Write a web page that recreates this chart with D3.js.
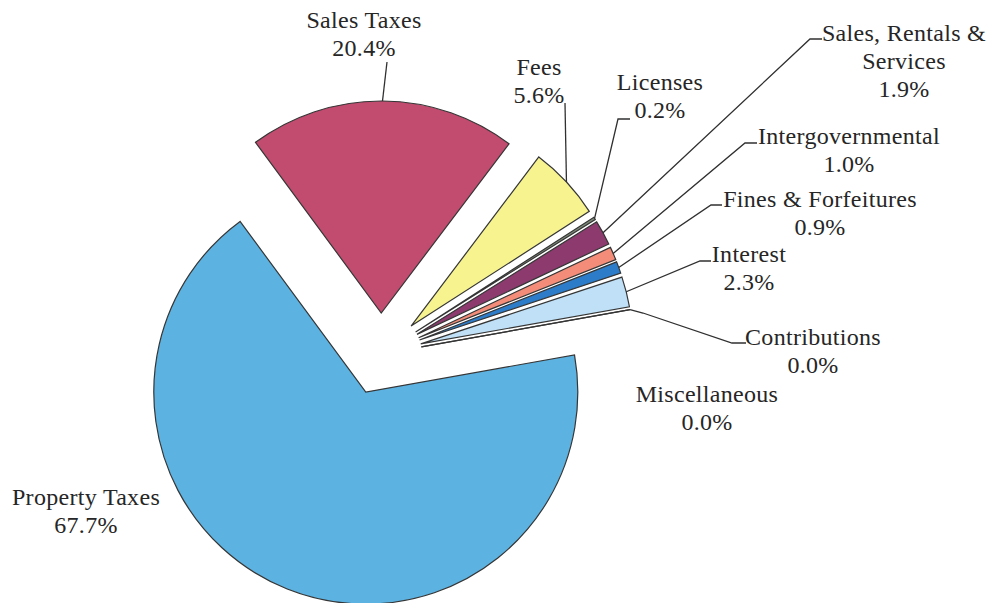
<!DOCTYPE html>
<html>
<head>
<meta charset="utf-8">
<script src="https://cdn.jsdelivr.net/npm/d3@7"></script>
<style>
  html, body { margin: 0; padding: 0; background: #fff; }
  svg { display: block; }
  .lbl { font-family: "Liberation Serif", "Times New Roman", serif; font-size: 24px; fill: #262626; letter-spacing: 0.3px; }
</style>
</head>
<body>
<div id="chart"></div>
<script>
// revenue shares (percent)
const categories = ["Property Taxes", "Sales Taxes", "Fees", "Licenses", "Sales, Rentals & Services",
  "Intergovernmental", "Fines & Forfeitures", "Interest", "Contributions", "Miscellaneous"]
const shares = [67.7, 20.4, 5.6, 0.2, 1.9, 1.0, 0.9, 2.3, 0.0, 0.0]
const labelLines = [["Property Taxes"], ["Sales Taxes"], ["Fees"], ["Licenses"], ["Sales, Rentals &", "Services"],
  ["Intergovernmental"], ["Fines & Forfeitures"], ["Interest"], ["Contributions"], ["Miscellaneous"]]

const palette = ["#5cb3e2", "#c24b70", "#f7f38f", "#7d8a78", "#8d3a6f", "#f38d79", "#2c7cc9", "#bfe0f6", "#9fc9e8", "#d0d0d0"]

// where the hand-placed labels sit: text centre, first baseline, leader bends
const layout = {
  "Property Taxes": {x: 86, y: 505, leader: null},
  "Sales Taxes": {x: 364, y: 28, leader: [[387, 62]]},
  "Fees": {x: 539, y: 75, leader: [[565, 103]]},
  "Licenses": {x: 660, y: 90, leader: [[618, 119], [630, 119]]},
  "Sales, Rentals & Services": {x: 904, y: 41, leader: [[810, 39], [822, 39]]},
  "Intergovernmental": {x: 849, y: 144, leader: [[745, 143], [757, 143]]},
  "Fines & Forfeitures": {x: 820, y: 207, leader: [[711, 205], [722, 205]]},
  "Interest": {x: 749, y: 262, leader: [[700, 261], [711, 261]]},
  "Contributions": {x: 813, y: 345, leader: [[643, 313], [732, 343], [746, 343]]},
  "Miscellaneous": {x: 707, y: 402, leader: null}
}

const width = 990, height = 603
const cx = 381, cy = 354
const radius = 212, explode = 41
const lineGap = 28

const pct = d3.format(".1f")
const color = d3.scaleOrdinal().domain(categories).range(palette)

const data = categories.map((c, i) => ({name: c, value: shares[i], lines: labelLines[i]}))

const start = 79.9 * Math.PI / 180
const pie = d3.pie().sort(null).value(d => d.value)
  .startAngle(start).endAngle(start + 2 * Math.PI)
const arc = d3.arc().innerRadius(0).outerRadius(radius)

const unit = a => [Math.sin(a), -Math.cos(a)]

const svg = d3.select("#chart").append("svg")
  .attr("width", width)
  .attr("height", height)
  .attr("viewBox", `0 0 ${width} ${height}`)

svg.append("rect").attr("width", width).attr("height", height).attr("fill", "#fff")

const g = svg.append("g").attr("transform", `translate(${cx},${cy})`)
const arcs = pie(data)

g.selectAll("path.slice")
  .data(arcs)
  .join("path")
  .attr("class", "slice")
  .attr("transform", d => {
    const [ux, uy] = unit((d.startAngle + d.endAngle) / 2)
    return `translate(${ux * explode},${uy * explode})`
  })
  .attr("d", arc)
  .attr("fill", d => color(d.data.name))
  .attr("stroke", "#353535")
  .attr("stroke-width", 1.2)
  .attr("stroke-linejoin", "miter")

// leaders: start on the outer edge of the exploded slice
const line = d3.line()
svg.append("g").selectAll("path")
  .data(arcs.filter(d => layout[d.data.name].leader))
  .join("path")
  .attr("d", d => {
    const [ux, uy] = unit((d.startAngle + d.endAngle) / 2)
    const p0 = [cx + ux * (radius + explode), cy + uy * (radius + explode)]
    return line([p0, ...layout[d.data.name].leader])
  })
  .attr("fill", "none")
  .attr("stroke", "#303030")
  .attr("stroke-width", 1.3)

const labels = svg.append("g").selectAll("text")
  .data(arcs)
  .join("text")
  .attr("class", "lbl")
  .attr("text-anchor", "middle")
  .attr("x", d => layout[d.data.name].x)
  .attr("y", d => layout[d.data.name].y)

labels.each(function (d) {
  const t = d3.select(this)
  const L = layout[d.data.name]
  const rows = [...d.data.lines, pct(d.data.value) + "%"]
  rows.forEach((r, i) => {
    t.append("tspan").attr("x", L.x).attr("y", L.y + i * lineGap).text(r)
  })
})
</script>
</body>
</html>
